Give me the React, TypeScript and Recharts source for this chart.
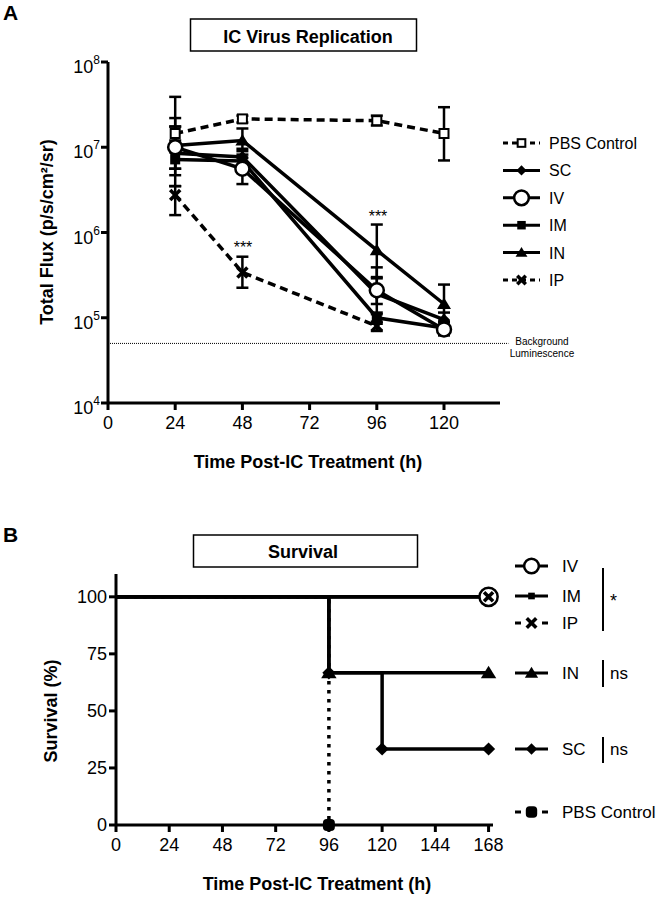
import { LineChart, Line, XAxis, YAxis, ErrorBar, ReferenceLine } from 'recharts';

const FONT = '"Liberation Sans", Arial, Helvetica, sans-serif';

// Panel A: total flux per route (p/s/cm2/sr) at hours post-IC treatment
const fluxHours = [24, 48, 96, 120];
const fluxTicks = [1e4, 1e5, 1e6, 1e7, 1e8];
const hourTicksA = [0, 24, 48, 72, 96, 120];

const pbsFlux = [1.45e7, 2.15e7, 2.05e7, 1.45e7];
const pbsLow = [1.2e7, 1.95e7, 1.8e7, 7e6];
const pbsHigh = [1.75e7, 2.35e7, 2.35e7, 2.95e7];

const scFlux = [8.5e6, 7.7e6, 1.9e5, 9.5e4];
const scLow = [4.7e6, 5.5e6, 1.1e5, 7.5e4];
const scHigh = [2.2e7, 9.6e6, 2.9e5, 1.15e5];

const ivFlux = [1.0e7, 5.6e6, 2.1e5, 7.3e4];
const ivLow = [5.6e6, 3.7e6, 1.45e5, 6.2e4];
const ivHigh = [1.75e7, 7.5e6, 3.9e5, 8.8e4];

const imFlux = [7.2e6, 6.9e6, 1.0e5, 7.6e4];
const imLow = [5.6e6, 5.5e6, 8.5e4, 6.5e4];
const imHigh = [9e6, 8.2e6, 1.15e5, 9e4];

const inFlux = [1.05e7, 1.2e7, 6.2e5, 1.45e5];
const inLow = [3.5e6, 9e6, 3e5, 9e4];
const inHigh = [3.9e7, 1.66e7, 1.24e6, 2.45e5];

const ipFlux = [2.75e6, 3.4e5, 8e4];
const ipLow = [1.6e6, 2.25e5, 7e4];
const ipHigh = [3.5e6, 5.2e5, 9e4];

const backgroundFlux = 5e4;

// Panel B: survival (%) steps
const hourTicksB = [0, 24, 48, 72, 96, 120, 144, 168];
const survTicks = [0, 25, 50, 75, 100];
const survHoursFull = [0, 168];
const survFull = [100, 100]; // IV, IM, IP
const survHoursIN = [0, 96, 168];
const survIN = [100, 66.7, 66.7];
const survHoursSC = [0, 96, 120, 168];
const survSC = [100, 66.7, 33.3, 33.3];
const survHoursPBS = [0, 96];
const survPBS = [100, 0];

const errPair = (v: number[], lo: number[], hi: number[], i: number) =>
  v[i] === undefined ? null : [v[i] - lo[i], hi[i] - v[i]];

const fluxRows = fluxHours.map((hour, i) => ({
  hour,
  pbs: pbsFlux[i], pbsErr: errPair(pbsFlux, pbsLow, pbsHigh, i),
  sc: scFlux[i], scErr: errPair(scFlux, scLow, scHigh, i),
  iv: ivFlux[i], ivErr: errPair(ivFlux, ivLow, ivHigh, i),
  im: imFlux[i], imErr: errPair(imFlux, imLow, imHigh, i),
  in: inFlux[i], inErr: errPair(inFlux, inLow, inHigh, i),
  ip: ipFlux[i] ?? null, ipErr: errPair(ipFlux, ipLow, ipHigh, i),
}));

const toRows = (hours: number[], pct: number[]) => hours.map((hour, i) => ({ hour, pct: pct[i] }));
const fullRows = toRows(survHoursFull, survFull);
const inRows = toRows(survHoursIN, survIN);
const scRows = toRows(survHoursSC, survSC);
const pbsRows = toRows(survHoursPBS, survPBS);

type Kind = 'openSquare' | 'diamond' | 'openCircle' | 'square' | 'triangle' | 'cross' | 'blob' | 'smallSquare';

const Marker = ({ kind, cx, cy, s = 1 }: { kind: Kind; cx: number; cy: number; s?: number }) => {
  switch (kind) {
    case 'openSquare':
      return <rect x={cx - 4.5 * s} y={cy - 4.5 * s} width={9 * s} height={9 * s} fill="#fff" stroke="#000" strokeWidth={2} />;
    case 'diamond':
      return <polygon points={`${cx},${cy - 6 * s} ${cx + 6 * s},${cy} ${cx},${cy + 6 * s} ${cx - 6 * s},${cy}`} fill="#000" />;
    case 'openCircle':
      return <circle cx={cx} cy={cy} r={7 * s} fill="#fff" stroke="#000" strokeWidth={2.5} />;
    case 'square':
      return <rect x={cx - 5 * s} y={cy - 5 * s} width={10 * s} height={10 * s} fill="#000" />;
    case 'smallSquare':
      return <rect x={cx - 3.5 * s} y={cy - 3.5 * s} width={7 * s} height={7 * s} fill="#000" />;
    case 'triangle':
      return <polygon points={`${cx},${cy - 6.5 * s} ${cx + 7 * s},${cy + 5 * s} ${cx - 7 * s},${cy + 5 * s}`} fill="#000" />;
    case 'cross':
      return (
        <g stroke="#000" strokeWidth={3.5}>
          <line x1={cx - 5 * s} y1={cy - 5 * s} x2={cx + 5 * s} y2={cy + 5 * s} />
          <line x1={cx - 5 * s} y1={cy + 5 * s} x2={cx + 5 * s} y2={cy - 5 * s} />
        </g>
      );
    case 'blob':
      return <rect x={cx - 6 * s} y={cy - 6 * s} width={12 * s} height={12 * s} rx={4 * s} fill="#000" />;
  }
  return null;
};

const dotFor = (kind: Kind, s = 1, skipZeroHour = false) => (props: any) => {
  const { cx, cy, payload, index } = props;
  if (cx == null || cy == null || isNaN(cy)) return <g key={index} />;
  if (skipZeroHour && payload.hour === 0) return <g key={index} />;
  return <Marker key={index} kind={kind} cx={cx} cy={cy} s={s} />;
};

const PowerTick = (props: any) => {
  const { x, y, payload } = props;
  const exp = Math.round(Math.log10(payload.value));
  return (
    <text x={x + 1} y={y + 11} textAnchor="end" fontSize={18} fontFamily={FONT} fill="#000">
      10<tspan dy={-9} fontSize={12}>{exp}</tspan>
    </text>
  );
};

const axisProps = {
  axisLine: { stroke: '#000', strokeWidth: 3 },
  tickLine: { stroke: '#000', strokeWidth: 3 },
  tickSize: 7,
  tick: { fontSize: 18, fill: '#000', fontFamily: FONT },
};

const lineBase = { stroke: '#000', strokeWidth: 3.5, isAnimationActive: false, activeDot: false as const };
const errBase = { width: 6, stroke: '#000', strokeWidth: 2.5, direction: 'y' as const };

const ReplicationChart = () => (
  <LineChart width={661} height={480} data={fluxRows} margin={{ top: 62, right: 161, bottom: 47, left: 48 }}>
    <XAxis dataKey="hour" type="number" domain={[0, 140]} ticks={hourTicksA} height={30} tickMargin={6} {...axisProps} />
    <YAxis type="number" scale="log" domain={[1e4, 1e8]} ticks={fluxTicks} width={60} allowDataOverflow
      axisLine={axisProps.axisLine} tickLine={axisProps.tickLine} tickSize={7} tick={<PowerTick />} />
    <ReferenceLine segment={[{ x: 0, y: backgroundFlux }, { x: 143, y: backgroundFlux }]} ifOverflow="visible"
      stroke="#000" strokeWidth={1} strokeDasharray="1 1" />
    <Line dataKey="pbs" {...lineBase} strokeDasharray="8 5" dot={dotFor('openSquare')}>
      <ErrorBar dataKey="pbsErr" {...errBase} />
    </Line>
    <Line dataKey="ip" {...lineBase} strokeDasharray="8 5" dot={dotFor('cross')}>
      <ErrorBar dataKey="ipErr" {...errBase} />
    </Line>
    <Line dataKey="in" {...lineBase} dot={dotFor('triangle')}>
      <ErrorBar dataKey="inErr" {...errBase} />
    </Line>
    <Line dataKey="sc" {...lineBase} dot={dotFor('diamond')}>
      <ErrorBar dataKey="scErr" {...errBase} />
    </Line>
    <Line dataKey="im" {...lineBase} dot={dotFor('square')}>
      <ErrorBar dataKey="imErr" {...errBase} />
    </Line>
    <Line dataKey="iv" {...lineBase} dot={dotFor('openCircle')}>
      <ErrorBar dataKey="ivErr" {...errBase} />
    </Line>
  </LineChart>
);

const SurvivalChart = () => (
  <LineChart width={661} height={397} margin={{ top: 74, right: 168, bottom: 42, left: 56 }}>
    <XAxis dataKey="hour" type="number" domain={[0, 170]} ticks={hourTicksB} height={30} tickMargin={6} {...axisProps} allowDuplicatedCategory={false} />
    <YAxis type="number" domain={[0, 110]} ticks={survTicks} width={60} {...axisProps} />
    <Line data={pbsRows} dataKey="pct" type="stepAfter" {...lineBase} strokeDasharray="3.5 5.5" dot={dotFor('blob', 1, true)} />
    <Line data={scRows} dataKey="pct" type="stepAfter" {...lineBase} dot={dotFor('diamond', 1.1, true)} />
    <Line data={inRows} dataKey="pct" type="stepAfter" {...lineBase} dot={dotFor('triangle', 1.1, true)} />
    <Line data={fullRows} dataKey="pct" type="stepAfter" {...lineBase} dot={dotFor('openCircle', 1.3, true)} />
    <Line data={fullRows} dataKey="pct" type="stepAfter" {...lineBase} dot={dotFor('smallSquare', 0.7, true)} />
    <Line data={fullRows} dataKey="pct" type="stepAfter" {...lineBase} dot={dotFor('cross', 0.9, true)} />
  </LineChart>
);

const legendA: { label: string; kind: Kind; dashed: boolean }[] = [
  { label: 'PBS Control', kind: 'openSquare', dashed: true },
  { label: 'SC', kind: 'diamond', dashed: false },
  { label: 'IV', kind: 'openCircle', dashed: false },
  { label: 'IM', kind: 'square', dashed: false },
  { label: 'IN', kind: 'triangle', dashed: false },
  { label: 'IP', kind: 'cross', dashed: true },
];

const legendB: { label: string; kind: Kind; dashed: boolean; y: number }[] = [
  { label: 'IV', kind: 'openCircle', dashed: false, y: 572 },
  { label: 'IM', kind: 'smallSquare', dashed: false, y: 602 },
  { label: 'IP', kind: 'cross', dashed: true, y: 629 },
  { label: 'IN', kind: 'triangle', dashed: false, y: 679 },
  { label: 'SC', kind: 'diamond', dashed: false, y: 755 },
  { label: 'PBS Control', kind: 'blob', dashed: true, y: 818 },
];

const Overlay = () => (
  <svg width={661} height={897} style={{ position: 'absolute', left: 0, top: 0, pointerEvents: 'none' }} fontFamily={FONT}>
    {/* panel A */}
    <text x={3} y={20} fontSize={21} fontWeight="bold">A</text>
    <rect x={190.5} y={19} width={226} height={32} fill="none" stroke="#000" strokeWidth={1.5} />
    <text x={308} y={43} fontSize={18} fontWeight="bold" textAnchor="middle">IC Virus Replication</text>
    <text x={53} y={232} fontSize={18} fontWeight="bold" textAnchor="middle" transform="rotate(-90 53 232)">
      Total Flux (p/s/cm²/sr)
    </text>
    <text x={308} y={468} fontSize={18} fontWeight="bold" textAnchor="middle">Time Post-IC Treatment (h)</text>
    <text x={243} y={253} fontSize={16} textAnchor="middle">***</text>
    <text x={378} y={222} fontSize={16} textAnchor="middle">***</text>
    <text x={542} y={345} fontSize={10} textAnchor="middle">Background</text>
    <text x={542} y={357} fontSize={10} textAnchor="middle">Luminescence</text>
    {legendA.map((d, i) => {
      const base = 149 + i * 27.4;
      const cy = base - 6;
      return (
        <g key={d.label}>
          <line x1={503} x2={540} y1={cy} y2={cy} stroke="#000" strokeWidth={3} strokeDasharray={d.dashed ? '5 4' : undefined} />
          <Marker kind={d.kind} cx={521.5} cy={cy} s={d.kind === 'openCircle' ? 1.05 : 0.85} />
          <text x={549} y={base} fontSize={16}>{d.label}</text>
        </g>
      );
    })}

    {/* panel B */}
    <text x={3} y={542} fontSize={21} fontWeight="bold">B</text>
    <rect x={193.5} y={535} width={224} height={32} fill="none" stroke="#000" strokeWidth={1.5} />
    <text x={303} y={558} fontSize={18} fontWeight="bold" textAnchor="middle">Survival</text>
    <text x={57} y={711} fontSize={18} fontWeight="bold" textAnchor="middle" transform="rotate(-90 57 711)">
      Survival (%)
    </text>
    <text x={317} y={890} fontSize={18} fontWeight="bold" textAnchor="middle">Time Post-IC Treatment (h)</text>
    {legendB.map((d) => {
      const cy = d.y - 6;
      return (
        <g key={d.label}>
          {d.dashed ? (
            <g stroke="#000" strokeWidth={3}>
              <line x1={515} x2={521} y1={cy} y2={cy} />
              <line x1={542} x2={548} y1={cy} y2={cy} />
            </g>
          ) : (
            <line x1={515} x2={548} y1={cy} y2={cy} stroke="#000" strokeWidth={3} />
          )}
          <Marker kind={d.kind} cx={531.5} cy={cy} s={d.kind === 'openCircle' ? 1.05 : 0.95} />
          <text x={562} y={d.y} fontSize={17}>{d.label}</text>
        </g>
      );
    })}
    <g stroke="#000" strokeWidth={2}>
      <line x1={603} x2={603} y1={568} y2={631} />
      <line x1={603} x2={603} y1={660} y2={687} />
      <line x1={603} x2={603} y1={737} y2={763} />
    </g>
    <text x={610} y={607} fontSize={18}>*</text>
    <text x={610} y={679} fontSize={17}>ns</text>
    <text x={610} y={755} fontSize={17}>ns</text>
  </svg>
);

export default function App() {
  return (
    <div style={{ position: 'absolute', left: 0, top: 0, width: 661, height: 897, background: '#fff' }}>
      <div style={{ position: 'absolute', left: 0, top: 0 }}>
        <ReplicationChart />
      </div>
      <div style={{ position: 'absolute', left: 0, top: 500 }}>
        <SurvivalChart />
      </div>
      <Overlay />
    </div>
  );
}
